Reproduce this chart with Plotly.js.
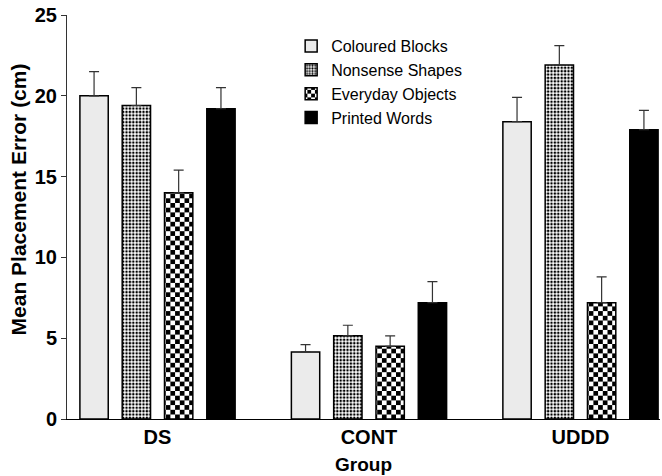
<!DOCTYPE html>
<html>
<head>
<meta charset="utf-8">
<script src="https://cdn.plot.ly/plotly-3.0.1.min.js"></script>
<style>html,body{margin:0;padding:0;background:#fff;}#chart{width:662px;height:476px;}</style>
</head>
<body>
<div id="chart"></div>
<script>
var groups = ["DS", "CONT", "UDDD"];
var seriesNames = ["Coloured Blocks", "Nonsense Shapes", "Everyday Objects", "Printed Words"];
var colouredBlocks = [20.0, 4.15, 18.4];
var colouredBlocksErr = [1.5, 0.45, 1.5];
var nonsenseShapes = [19.4, 5.15, 21.9];
var nonsenseShapesErr = [1.1, 0.65, 1.2];
var everydayObjects = [14.0, 4.5, 7.2];
var everydayObjectsErr = [1.4, 0.65, 1.6];
var printedWords = [19.2, 7.2, 17.9];
var printedWordsErr = [1.3, 1.3, 1.2];
var yTicks = [0, 5, 10, 15, 20, 25];

var values = [colouredBlocks, nonsenseShapes, everydayObjects, printedWords];
var errs = [colouredBlocksErr, nonsenseShapesErr, everydayObjectsErr, printedWordsErr];
var fills = ["#ebebeb", "#ffffff", "#ffffff", "#000000"];
var CHECK = 9.4;
var patterns = [
  {shape: ""},
  {shape: ".", fgcolor: "#000", bgcolor: "#fff", size: 3.4, solidity: 0.45, fillmode: "replace"},
  {shape: ".", fgcolor: "#000", bgcolor: "#fff", size: CHECK, solidity: 0.5, fillmode: "replace"},
  {shape: ""}
];
var FONT = "Liberation Sans, Arial, sans-serif";

var data = seriesNames.map(function (name, i) {
  return {
    type: "bar",
    name: name,
    x: groups,
    y: values[i],
    marker: {color: fills[i], line: {color: "#000", width: 1.5}, pattern: patterns[i]},
    error_y: {type: "data", array: errs[i], arrayminus: groups.map(function(){return 0;}), symmetric: false,
              color: "#333", thickness: 1.2, width: 5}
  };
});

var layout = {
  width: 662, height: 476,
  margin: {l: 67, r: 2, t: 15, b: 57},
  paper_bgcolor: "#fff", plot_bgcolor: "#fff",
  barmode: "group", bargap: 0.2, bargroupgap: 0.33,
  font: {family: FONT, color: "#000"},
  showlegend: true,
  legend: {x: 0.378, y: 0.965, xanchor: "left", yanchor: "top", bgcolor: "rgba(0,0,0,0)",
           font: {size: 16, family: FONT}, tracegroupgap: 0},
  xaxis: {
    type: "category", range: [-0.428, 2.376], showgrid: false, zeroline: false,
    showline: true, linecolor: "#000", linewidth: 1, ticks: "",
    tickfont: {size: 20, family: FONT, weight: "bold"},
    title: {text: "<b>Group</b>", font: {size: 19}, standoff: 10}
  },
  yaxis: {
    range: [0, 25], tickvals: yTicks, ticktext: yTicks.map(String), showgrid: false, zeroline: false,
    showline: true, linecolor: "#333", linewidth: 1, ticks: "outside", ticklen: 5, tickcolor: "#333",
    tickfont: {size: 20, family: FONT, weight: "bold"},
    title: {text: "<b>\u00a0\u00a0\u00a0\u00a0\u00a0\u00a0Mean Placement Error (cm)</b>", font: {size: 21}, standoff: 2}
  }
};

Plotly.newPlot("chart", data, layout, {displayModeBar: false, staticPlot: true}).then(function (gd) {
  // turn the Everyday Objects dot pattern into a checkerboard
  var ns = "http://www.w3.org/2000/svg";
  var pats = gd.querySelectorAll("pattern");
  pats.forEach(function (p) {
    var w = parseFloat(p.getAttribute("width"));
    if (Math.abs(w - CHECK) < 0.01) {
      while (p.firstChild) p.removeChild(p.firstChild);
      var h = CHECK / 2;
      [[0, 0, CHECK, CHECK, "#fff"], [0, 0, h, h, "#000"], [h, h, h, h, "#000"]].forEach(function (r) {
        var el = document.createElementNS(ns, "rect");
        el.setAttribute("x", r[0]); el.setAttribute("y", r[1]);
        el.setAttribute("width", r[2]); el.setAttribute("height", r[3]);
        el.setAttribute("fill", r[4]);
        p.appendChild(el);
      });
    }
  });
});
</script>
</body>
</html>
